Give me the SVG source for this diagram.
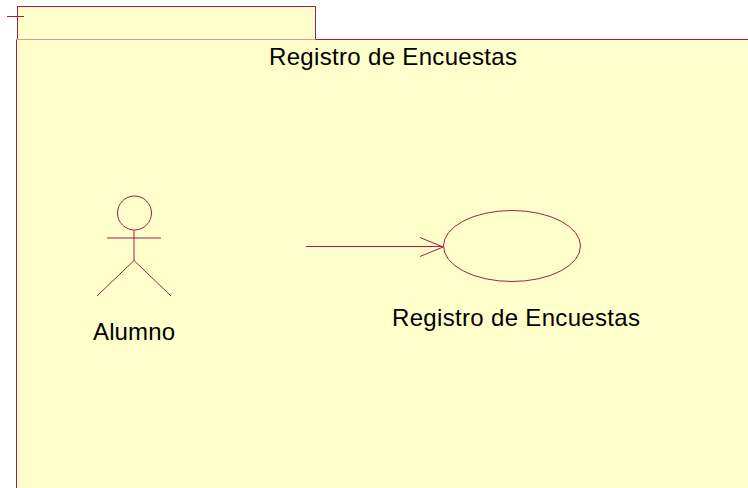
<svg xmlns="http://www.w3.org/2000/svg" width="748" height="488" viewBox="0 0 748 488">
<style>
.l{fill:none;stroke:#b0174f;stroke-width:1}
.f{fill:#ffffcb;stroke:#b0174f;stroke-width:1}
text{font-family:"Liberation Sans",Arial,sans-serif;font-size:24px;fill:#000}
</style>
<rect width="748" height="488" fill="#fff"/>
<g id="package">
<rect class="f" x="17.500" y="6.500" width="298" height="33.500"/>
<path d="M16.500 488V39.500H748V488Z" fill="#ffffcb"/>
<path d="M17 39.500H315.500" stroke="#dc9a9a" fill="none"/>
<path class="l" d="M16.500 488V39.500M315.500 39.500H748"/>
<path class="l" d="M7 16.500H24"/>
<text x="269" y="65" textLength="248" lengthAdjust="spacing">Registro de Encuestas</text>
</g>
<g id="actor">
<circle class="l" cx="134.500" cy="213" r="17"/>
<path class="l" d="M134 230V260.500M107 238H161M134 260.500L97 296M134 260.500L171 296"/>
<text x="93" y="340" textLength="82" lengthAdjust="spacing">Alumno</text>
</g>
<g id="usecase">
<ellipse class="l" cx="512" cy="246" rx="68.500" ry="35.500"/>
<text x="392" y="326" textLength="248" lengthAdjust="spacing">Registro de Encuestas</text>
</g>
<g id="connectors">
<path class="l" d="M306 246.500H443M420 237.500L443 247L420 256.500"/>
</g>
</svg>
